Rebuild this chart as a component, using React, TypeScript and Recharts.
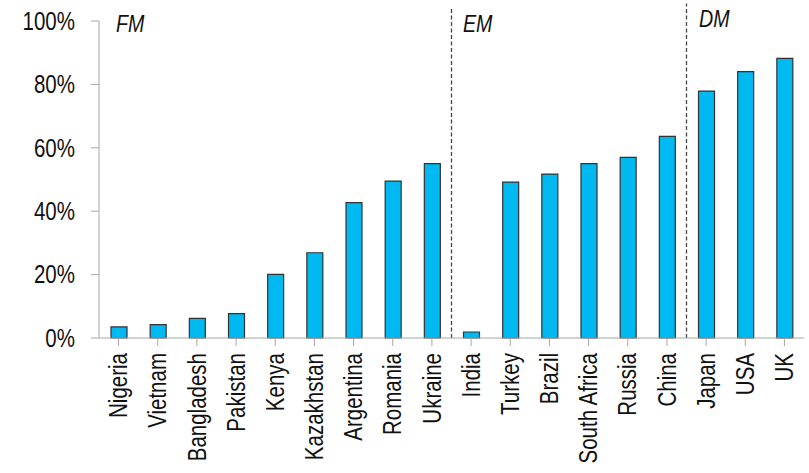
import { BarChart, Bar, XAxis, YAxis, ReferenceLine, Customized } from "recharts";

const countries = [
  "Nigeria", "Vietnam", "Bangladesh", "Pakistan", "Kenya", "Kazakhstan", "Argentina", "Romania", "Ukraine",
  "India", "Turkey", "Brazil", "South Africa", "Russia", "China",
  "Japan", "USA", "UK",
];
const shares = [3.5, 4.2, 6.2, 7.7, 20.1, 26.9, 42.7, 49.5, 55.0, 1.9, 49.2, 51.7, 55.0, 57.0, 63.6, 77.9, 84.0, 88.2];
const yTicks = [0, 20, 40, 60, 80, 100];
const groupLabels = ["FM", "EM", "DM"];

const data = countries.map((country, i) => ({ country, share: shares[i] }));

// no narrow font installed, so squeeze Liberation Sans
const FONT = "'Liberation Sans', Arial, sans-serif";
const SQUEEZE = 0.82;

const XTick = ({ x, y, payload }: any) => (
  <g transform={`translate(${x},${y})`}>
    <text transform={`rotate(-90) scale(${SQUEEZE},1)`} textAnchor="end" dominantBaseline="central" fontSize={25} fontFamily={FONT} fill="#111">
      {payload.value}
    </text>
  </g>
);

const YTick = ({ x, y, payload }: any) => (
  <g transform={`translate(${x},${y})`}>
    <text transform={`scale(${SQUEEZE},1)`} textAnchor="end" dominantBaseline="central" fontSize={25} fontFamily={FONT} fill="#111">
      {`${payload.value}%`}
    </text>
  </g>
);

const GroupLabel = ({ x, y, text }: { x: number; y: number; text: string }) => (
  <text transform={`translate(${x},${y}) scale(${SQUEEZE},1)`} fontFamily={FONT} fontStyle="italic" fontSize={24} fill="#111">
    {text}
  </text>
);

const GroupLabels = () => (
  <g>
    <GroupLabel x={116} y={32} text={groupLabels[0]} />
    <GroupLabel x={463} y={32} text={groupLabels[1]} />
    <GroupLabel x={699} y={27} text={groupLabels[2]} />
  </g>
);

export default function App() {
  return (
    <div style={{ position: "absolute", left: 0, top: 0, background: "#fff" }}>
      <BarChart width={809} height={473} data={data} margin={{ top: 21, right: 5, bottom: 0, left: 0 }}>
        <XAxis
          dataKey="country"
          interval={0}
          height={135}
          tick={<XTick />}
          tickSize={8}
          tickMargin={7}
          stroke="#a6a6a6"
        />
        <YAxis
          domain={[0, 100]}
          ticks={yTicks}
          width={99}
          tickSize={8}
          tickMargin={16}
          stroke="#a6a6a6"
          tick={<YTick />}
        />
        <ReferenceLine
          segment={[{ x: "Ukraine", y: 0 }, { x: "Ukraine", y: 104 }]}
          position="end"
          ifOverflow="visible"
          stroke="#444"
          strokeWidth={1.3}
          strokeDasharray="4 2.5"
        />
        <ReferenceLine
          segment={[{ x: "China", y: 0 }, { x: "China", y: 105.5 }]}
          position="end"
          ifOverflow="visible"
          stroke="#444"
          strokeWidth={1.3}
          strokeDasharray="4 2.5"
        />
        <Bar dataKey="share" fill="#00B9F1" stroke="#333" strokeWidth={1.2} barSize={16} isAnimationActive={false} />
        <Customized component={GroupLabels} />
      </BarChart>
    </div>
  );
}
